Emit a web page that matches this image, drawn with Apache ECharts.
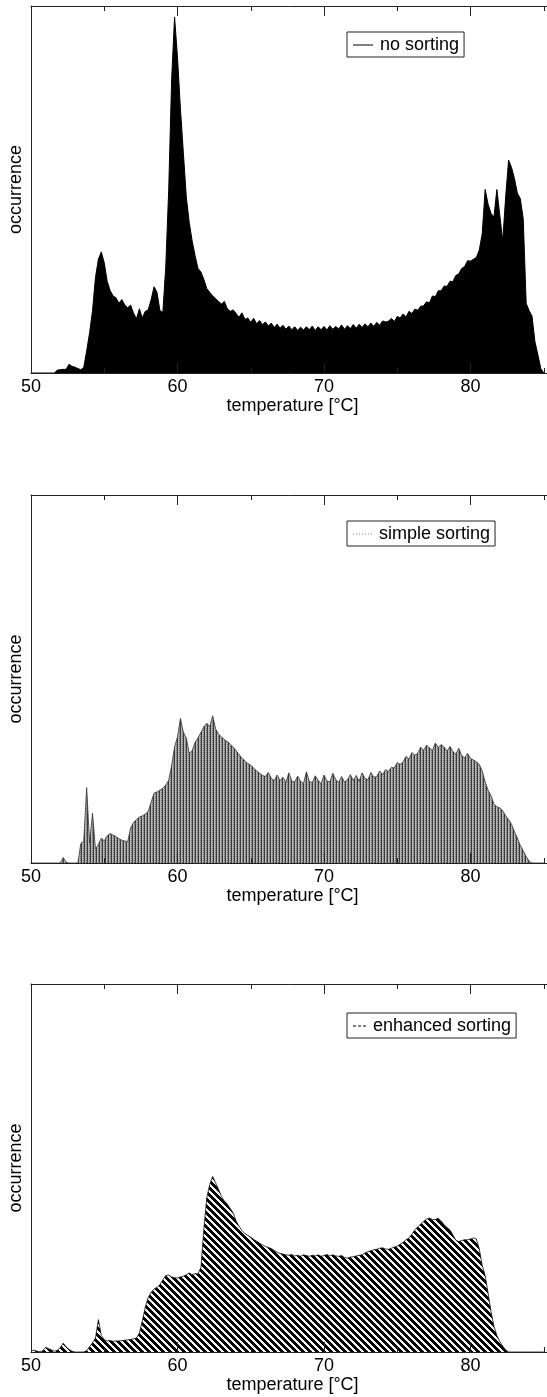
<!DOCTYPE html>
<html><head><meta charset="utf-8">
<script src="https://cdn.jsdelivr.net/npm/echarts@6/dist/echarts.min.js"></script>
<style>html,body{margin:0;padding:0;background:#fff}#c{width:547px;height:1397px}</style>
</head><body><div id="c"></div>
<script>
// temperature grid of the histograms: 50.0, 50.2, ... 85.0 °C
const tempStart = 50, tempStep = 0.2;
const xTickLabels = [50, 60, 70, 80];
const seriesNames = ['no sorting', 'simple sorting', 'enhanced sorting'];
const axisNameX = 'temperature [°C]';
const axisNameY = 'occurrence';

const noSorting = [
  0,0,0,0,0,0,0,0,0,0.8,
  0.9,1.0,1.0,2.4,1.8,1.6,1.2,0.9,1.5,6,
  11,17,26,31,33,30,25,22.5,21,20.5,
  19,20,18.5,17.8,18.5,16.3,14.8,17.5,15,16.8,
  17.2,20,23.5,22,17,16.5,29,50,80,97,
  86,72,60,48,41,36,32,28.5,27.5,25.5,
  23,22,21,20.3,19.5,18.8,19.5,17.5,16.8,17.2,
  16.2,15.2,16.4,14.6,15.0,13.8,14.9,13.4,14.3,13.2,
  13.9,12.8,13.6,12.4,13.3,12.2,13.0,11.9,12.8,11.8,
  12.6,11.6,12.5,11.7,12.6,11.8,12.8,11.6,12.6,11.8,
  12.7,11.7,12.9,11.9,12.7,12.0,13.1,11.9,12.9,12.1,
  13.2,12.2,13.3,12.4,13.4,12.6,13.6,12.7,13.8,13.0,
  14.2,13.9,14.1,14.9,14.0,15.4,15.0,16.1,15.3,16.8,
  16.2,17.4,17.1,18.2,18.3,19.4,19.1,21.0,20.8,22.4,
  22.4,23.7,23.6,25.0,24.9,26.6,27.0,28.5,29.0,30.6,
  30.5,31.0,31.5,33.5,38,50,46,43.5,42.5,50,
  43,36,48,58,56,53,49,47.5,42,19,
  17,15.5,8.5,5,1.2,0
];
const simpleSorting = [
  0,0,0,0,0,0,0,0,0,0,
  0,1.5,0.2,0,0,0,0,5.3,6,20.5,
  5.5,13.5,3.8,5.0,6.8,6.0,7.4,8.0,7.6,7.2,
  6.6,6.2,6.0,5.8,9.5,11.0,11.8,12.5,12.8,13.3,
  14.0,16.5,19.0,19.3,19.8,20.3,21.2,22.5,26.5,31.5,
  34.3,39.3,35.5,34.0,29.8,30.5,32.8,34.0,35.5,37.0,
  38.0,37.0,40.0,36.5,35.0,34.3,33.5,33.0,32.3,31.5,
  30.5,29.5,28.5,27.8,27.0,26.6,25.8,25.0,24.4,23.8,
  23.5,24.6,23.0,22.4,23.9,22.4,23.3,21.9,24.5,22.3,
  22.0,23.6,22.2,21.6,24.8,22.2,21.8,23.7,22.5,21.5,
  23.9,22.3,22.0,24.4,22.7,21.9,23.5,22.0,22.6,24.0,
  22.4,23.8,22.2,24.5,23.0,22.6,24.6,23.3,23.5,25.0,
  24.0,25.4,24.8,26.0,25.8,27.3,26.8,27.5,29.0,28.2,
  30.0,29.3,29.8,31.5,30.6,32.0,31.3,30.6,32.6,31.4,
  32.2,31.5,30.4,31.7,30.3,29.6,31.2,29.2,28.5,29.8,
  28.4,28.0,27.5,26.8,25.0,22.0,19.8,18.3,16.0,15.3,
  15.0,14.2,12.8,11.8,10.5,8.5,6.8,4.8,3.3,1.8,
  0.5,0,0,0,0,0
];
const enhancedSorting = [
  0.3,0.5,0.2,0.1,0.3,1.3,0.9,0.6,0.2,0.5,
  1.2,2.4,1.4,0.7,0.2,0,0,0,0,0.4,
  1.4,2.5,3.8,8.8,4.5,3.4,3.0,3.1,2.9,3.0,
  3.0,3.1,3.2,3.3,3.4,3.6,3.8,5.2,8.5,12.2,
  14.8,16.2,17.1,17.6,18.3,19.6,20.8,20.9,20.4,20.2,
  20.1,20.4,20.6,21.0,21.5,21.0,21.3,21.2,23.0,33.5,
  42.0,45.5,47.7,46.0,44.2,42.3,41.0,40.2,39.0,37.8,
  35.6,34.2,33.0,32.2,31.7,31.2,30.6,30.1,29.6,29.1,
  28.7,28.4,28.1,27.6,27.1,26.8,26.6,26.4,26.3,26.5,
  26.1,26.3,26.0,26.4,26.2,26.0,26.3,26.1,26.4,26.0,
  26.2,26.5,26.1,26.4,26.1,26.0,26.2,25.7,25.5,25.8,
  25.9,26.1,26.3,26.4,26.9,27.3,27.5,27.8,27.9,28.2,
  28.3,28.0,27.9,28.2,28.5,28.8,29.3,29.8,30.5,31.0,
  32.0,33.2,34.0,34.8,35.5,36.1,36.4,36.0,36.0,36.4,
  35.6,34.6,33.8,33.2,31.8,30.4,30.0,30.3,30.5,30.5,
  30.7,31.0,30.7,28.0,23.5,20.8,16.0,11.0,7.0,4.5,
  2.8,1.6,0.6,0,0,0,0,0,0,0,
  0,0,0,0,0,0
];

function pairs(vals) {
  return vals.map((v, i) => [+(tempStart + i * tempStep).toFixed(1), v]);
}

// fill textures
function makePattern(w, h, painter) {
  const cv = document.createElement('canvas');
  cv.width = w; cv.height = h;
  const ctx = cv.getContext('2d');
  ctx.fillStyle = '#fff'; ctx.fillRect(0, 0, w, h);
  for (let y = 0; y < h; y++) for (let x = 0; x < w; x++) {
    const c = painter(x, y);
    if (c) { ctx.fillStyle = c; ctx.fillRect(x, y, 1, 1); }
  }
  return { image: cv, repeat: 'repeat' };
}
const grayTexture = makePattern(3, 2, (x, y) => x === 0 ? '#3a3a3a' : (x === 1 ? '#b8b8b8' : (y === 0 ? '#707070' : '#a8a8a8')));
const stripeTexture = makePattern(7, 7, (x, y) => (((x - y) % 7 + 7) % 7) < 4 ? '#000' : '#f4f4f4');

const FONT = '"Liberation Sans", Arial, Helvetica, sans-serif';
const FS = 18;
const gridTops = [6, 495, 984];
const gridHeights = [367, 368, 368];

const grids = [], xAxes = [], yAxes = [], series = [], legends = [];
const datasets = [noSorting, simpleSorting, enhancedSorting];
const legendTops = [32, 521, 1013];
const legendIcons = [
  'rect',
  'path://M0,0h1v1h-1z M3,0h1v1h-1z M6,0h1v1h-1z M9,0h1v1h-1z M12,0h1v1h-1z M15,0h1v1h-1z M18,0h1v1h-1z',
  'path://M0,0h3v1h-3z M5,0h3v1h-3z M10,0h3v1h-3z'
];
const legendIconW = [20, 19, 13];
const legendIconColor = ['#000', '#888', '#000'];

for (let k = 0; k < 3; k++) {
  grids.push({ left: 31, top: gridTops[k], width: 586, height: gridHeights[k],
    containLabel: false, outerBoundsMode: 'none' });
  const common = {
    type: 'value', gridIndex: k, min: 50, max: 90, interval: 10,
    axisLine: { show: true, onZero: false, lineStyle: { color: '#222', width: 1 } },
    axisTick: { show: true, inside: true, length: 10, lineStyle: { color: '#222', width: 1 } },
    minorTick: { show: true, splitNumber: 2, length: 5, lineStyle: { color: '#222', width: 1 } },
    splitLine: { show: false }, minorSplitLine: { show: false },
    z: 5
  };
  xAxes.push(Object.assign({}, common, {
    position: 'bottom',
    axisLabel: { show: true, margin: 5, color: '#000', fontSize: FS, fontFamily: FONT,
      formatter: v => xTickLabels.indexOf(Math.round(v)) >= 0 ? String(Math.round(v)) : '' },
    name: axisNameX, nameLocation: 'middle', nameGap: 22,
    nameTextStyle: { color: '#000', fontSize: FS, fontFamily: FONT, padding: [0, 63, 0, 0] }
  }));
  xAxes.push(Object.assign({}, common, {
    position: 'top', axisLabel: { show: false }
  }));
  yAxes.push({
    type: 'value', gridIndex: k, min: 0, max: 100, position: 'left',
    axisLine: { show: true, lineStyle: { color: '#222', width: 1 } },
    axisTick: { show: false }, axisLabel: { show: false }, splitLine: { show: false },
    name: axisNameY, nameLocation: 'middle', nameRotate: 90, nameGap: 6,
    nameTextStyle: { color: '#000', fontSize: FS, fontFamily: FONT }
  });
  const areaColor = k === 0 ? '#000' : (k === 1 ? grayTexture : stripeTexture);
  series.push({
    name: seriesNames[k], type: 'line', xAxisIndex: 2 * k, yAxisIndex: k,
    data: pairs(datasets[k]), symbol: 'none', showSymbol: false, smooth: false,
    color: k === 1 ? '#555' : '#000',
    lineStyle: { color: k === 0 ? '#000' : (k === 1 ? '#333' : '#111'), width: k === 0 ? 1 : 0.8 },
    areaStyle: { color: areaColor, opacity: 1 },
    silent: true, animation: false, z: 2
  });
  legends.push({
    data: [{ name: seriesNames[k], icon: legendIcons[k] }],
    left: 347, top: legendTops[k], orient: 'horizontal',
    backgroundColor: '#fff', borderColor: '#222', borderWidth: 1, borderRadius: 0,
    padding: [4, 5, 3, 6], itemGap: 6,
    itemWidth: legendIconW[k], itemHeight: 1,
    itemStyle: { color: legendIconColor[k], borderWidth: 0 },
    textStyle: { color: '#000', fontSize: FS, fontFamily: FONT, padding: [0, 0, 0, 2] },
    selectedMode: false
  });
}

const chart = echarts.init(document.getElementById('c'), null, { renderer: 'canvas' });
chart.setOption({
  backgroundColor: '#fff',
  animation: false,
  grid: grids, xAxis: xAxes, yAxis: yAxes, series: series, legend: legends
});
</script></body></html>
